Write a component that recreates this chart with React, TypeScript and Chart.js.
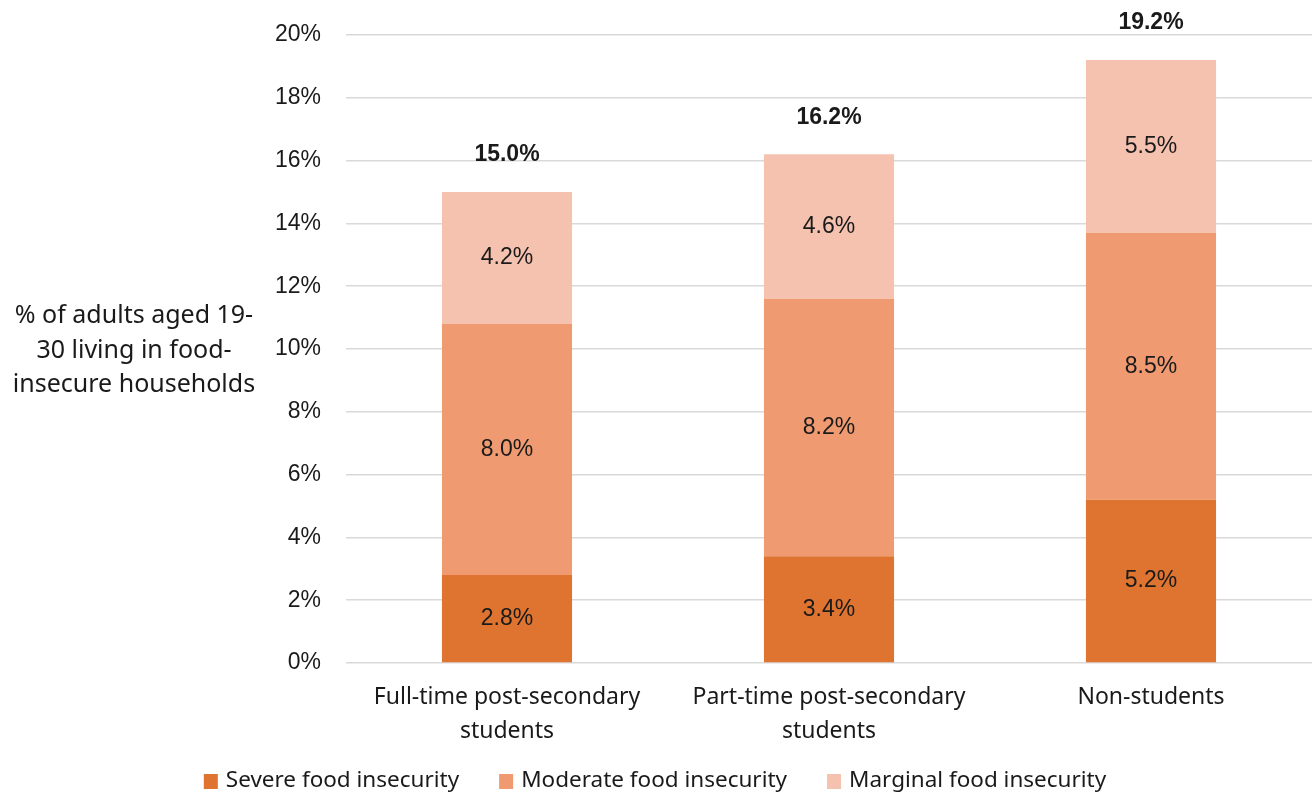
import React, { useEffect, useRef } from "react";
import { Chart, registerables } from "chart.js";

Chart.register(...registerables);

const categories: string[][] = [
  ["Full-time post-secondary", "students"],
  ["Part-time post-secondary", "students"],
  ["Non-students"],
];
const seriesNames = ["Severe food insecurity", "Moderate food insecurity", "Marginal food insecurity"];
const severe = [2.8, 3.4, 5.2];
const moderate = [8.0, 8.2, 8.5];
const marginal = [4.2, 4.6, 5.5];
const totals = [15.0, 16.2, 19.2];
const yTitleLines = ["% of adults aged 19-", "30 living in food-", "insecure households"];
const colors = ["#DE7430", "#EF9A70", "#F5C2AF"];

const ARIAL = "'Liberation Sans', Arial, sans-serif";
const SANS = "'Noto Sans', sans-serif";
const TEXT = "#1a1a1a";

const labelPlugin = {
  id: "labels",
  afterDatasetsDraw(chart: any) {
    const ctx = chart.ctx;
    ctx.save();
    ctx.textAlign = "center";
    ctx.textBaseline = "middle";
    ctx.fillStyle = TEXT;
    ctx.font = `23px ${ARIAL}`;
    chart.data.datasets.forEach((ds: any, di: number) => {
      const meta = chart.getDatasetMeta(di);
      meta.data.forEach((bar: any, i: number) => {
        const v = ds.data[i];
        const yc = (bar.y + bar.base) / 2;
        ctx.fillText(v.toFixed(1) + "%", bar.x, yc);
      });
    });
    const topMeta = chart.getDatasetMeta(chart.data.datasets.length - 1);
    ctx.font = `bold 23px ${ARIAL}`;
    topMeta.data.forEach((bar: any, i: number) => {
      ctx.fillText(totals[i].toFixed(1) + "%", bar.x, bar.y - 37);
    });
    ctx.restore();
  },
  afterDraw(chart: any) {
    const ctx = chart.ctx;
    ctx.save();
    ctx.textAlign = "center";
    ctx.textBaseline = "middle";
    ctx.fillStyle = TEXT;
    ctx.font = `25px ${SANS}`;
    yTitleLines.forEach((l, i) => ctx.fillText(l, 134, 316 + i * 34.5));

    // legend
    ctx.font = `22.5px ${SANS}`;
    ctx.textAlign = "left";
    const box = 14;
    const gapBox = 8;
    const gapItem = 40;
    const widths = seriesNames.map((n) => box + gapBox + ctx.measureText(n).width);
    const total = widths.reduce((a, b) => a + b, 0) + gapItem * (widths.length - 1);
    let x = 655 - total / 2;
    const yc = 781;
    seriesNames.forEach((n, i) => {
      ctx.fillStyle = colors[i];
      ctx.fillRect(x, yc - box / 2, box, box + 1);
      ctx.fillStyle = TEXT;
      ctx.fillText(n, x + box + gapBox, yc);
      x += widths[i] + gapItem;
    });
    ctx.restore();
  },
};

export default function App() {
  const ref = useRef<HTMLCanvasElement>(null);
  useEffect(() => {
    const data = [severe, moderate, marginal];
    const chart = new Chart(ref.current!, {
      type: "bar",
      data: {
        labels: categories,
        datasets: data.map((d, i) => ({
          label: seriesNames[i],
          data: d,
          backgroundColor: colors[i],
          borderWidth: 0,
          categoryPercentage: 1,
          barPercentage: 0.404,
        })),
      },
      plugins: [labelPlugin],
      options: {
        responsive: false,
        animation: false,
        devicePixelRatio: 1,
        layout: { padding: { top: 35, right: 3, left: 0, bottom: 50 } },
        plugins: {
          tooltip: { enabled: false },
          legend: { display: false },
        },
        scales: {
          x: {
            stacked: true,
            afterFit: (scale: any) => {
              scale.height = 82;
            },
            grid: { display: false, drawTicks: false },
            border: { display: false },
            ticks: {
              padding: 18,
              color: TEXT,
              font: { family: SANS, size: 23, lineHeight: 1.45 },
              maxRotation: 0,
              autoSkip: false,
            },
          },
          y: {
            stacked: true,
            min: 0,
            max: 20,
            afterFit: (scale: any) => {
              scale.width = 346;
              scale.paddingTop = 0;
              scale.paddingBottom = 0;
            },
            grid: { color: "#D9D9D9", lineWidth: 1.5, drawTicks: false },
            border: { display: false },
            ticks: {
              stepSize: 2,
              padding: 25,
              color: TEXT,
              font: { family: ARIAL, size: 23 },
              callback: (v: any) => v + "%",
            },
          },
        },
      },
    });
    return () => chart.destroy();
  }, []);
  return (
    <div style={{ position: "fixed", left: 0, top: 0, width: 1315, height: 795, background: "#fff" }}>
      <canvas ref={ref} width={1315} height={795} style={{ width: 1315, height: 795 }} />
    </div>
  );
}
